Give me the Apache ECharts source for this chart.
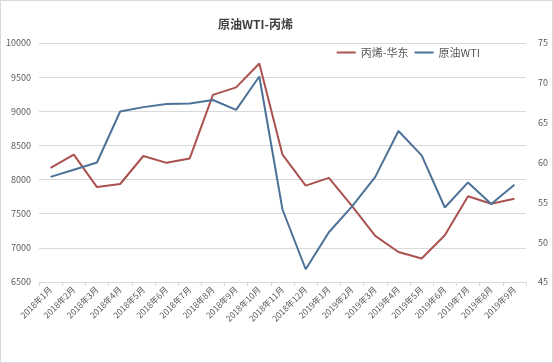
<!DOCTYPE html>
<html><head><meta charset="utf-8">
<script src="https://cdn.jsdelivr.net/npm/echarts@6/dist/echarts.min.js"></script>
<style>html,body{margin:0;padding:0;background:#fff}#c{width:551px;height:361px;border:1px solid #d9d9d9}</style>
</head><body><div id="c"></div>
<script>
var categories = ['2018年1月','2018年2月','2018年3月','2018年4月','2018年5月','2018年6月','2018年7月','2018年8月','2018年9月','2018年10月','2018年11月','2018年12月','2019年1月','2019年2月','2019年3月','2019年4月','2019年5月','2019年6月','2019年7月','2019年8月','2019年9月'];
var propylene = [8170, 8365, 7890, 7935, 8345, 8245, 8310, 9240, 9350, 9700, 8365, 7912, 8025, 7610, 7175, 6940, 6845, 7185, 7755, 7645, 7720];
var wti = [58.2, 59.1, 60.0, 66.4, 66.95, 67.35, 67.4, 67.85, 66.6, 70.8, 54.1, 46.6, 51.25, 54.5, 58.2, 63.95, 60.9, 54.35, 57.5, 54.8, 57.2];
var leftTicks = {min: 6500, max: 10000, interval: 500};
var rightTicks = {min: 45, max: 75, interval: 5};

var chart = echarts.init(document.getElementById('c'));
var red = '#A9524F', blue = '#4C7298';
var lbl = {color: '#595959', fontSize: 9, fontFamily: 'Noto Sans CJK SC, sans-serif', formatter: function (v) { return String(v); }};
chart.setOption({
  animation: false,
  title: {text: '原油WTI-丙烯', left: 212, top: 12, textStyle: {fontSize: 12, fontWeight: 'bold', color: '#404040', fontFamily: 'Noto Sans CJK SC'}},
  legend: {top: 41, right: 67, itemWidth: 19, itemHeight: 2, itemGap: 5, textStyle: {color: '#595959', fontSize: 11, fontFamily: 'Noto Sans CJK SC'}, data: ['丙烯-华东', '原油WTI']},
  grid: {left: 38, right: 26, top: 42, bottom: 80},
  xAxis: {type: 'category', data: categories, boundaryGap: true,
    axisLine: {lineStyle: {color: '#d9d9d9'}}, axisTick: {show: true, length: 4, lineStyle: {color: '#d9d9d9'}},
    axisLabel: {rotate: 45, interval: 0, fontSize: 8.5, margin: 6, color: '#595959', fontFamily: 'Noto Sans CJK SC'}},
  yAxis: [
    {type: 'value', min: leftTicks.min, max: leftTicks.max, interval: leftTicks.interval, position: 'left',
      axisLine: {show: false}, axisTick: {show: false}, splitLine: {lineStyle: {color: '#d9d9d9'}},
      axisLabel: Object.assign({margin: 8}, lbl)},
    {type: 'value', min: rightTicks.min, max: rightTicks.max, interval: rightTicks.interval, position: 'right',
      axisLine: {show: false}, axisTick: {show: false}, splitLine: {show: false},
      axisLabel: Object.assign({margin: 12}, lbl)}
  ],
  series: [
    {name: '丙烯-华东', type: 'line', yAxisIndex: 0, data: propylene, symbol: 'none', lineStyle: {color: red, width: 2}, itemStyle: {color: red}},
    {name: '原油WTI', type: 'line', yAxisIndex: 1, data: wti, symbol: 'none', lineStyle: {color: blue, width: 2}, itemStyle: {color: blue}}
  ]
});
</script></body></html>
